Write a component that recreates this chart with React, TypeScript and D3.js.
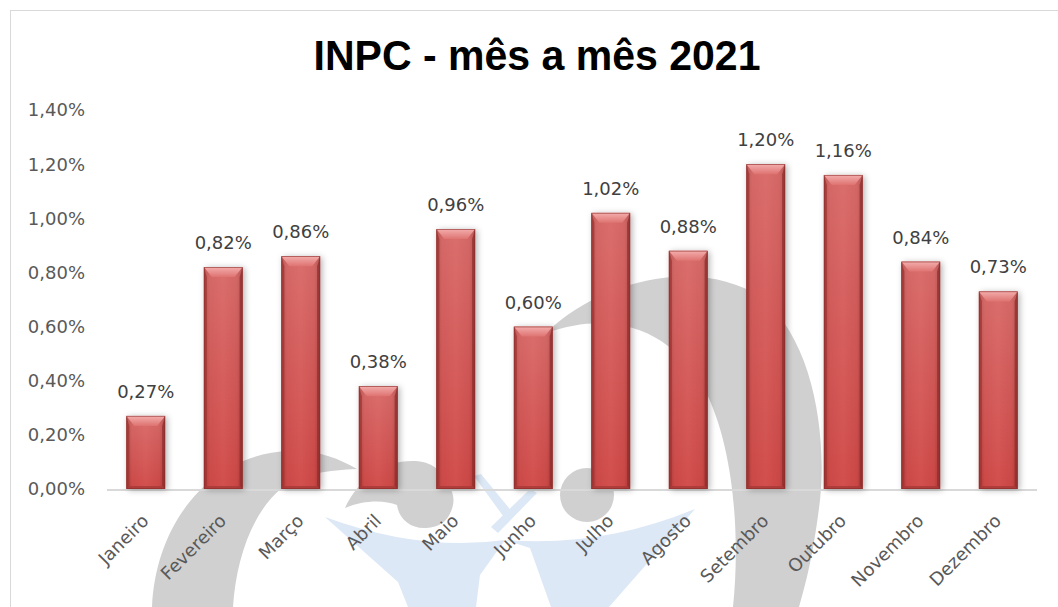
import * as d3 from 'd3';

const months = ['Janeiro', 'Fevereiro', 'Março', 'Abril', 'Maio', 'Junho', 'Julho', 'Agosto', 'Setembro', 'Outubro', 'Novembro', 'Dezembro'];
const inpc = [0.27, 0.82, 0.86, 0.38, 0.96, 0.6, 1.02, 0.88, 1.2, 1.16, 0.84, 0.73];
const yTicks = [0, 0.2, 0.4, 0.6, 0.8, 1.0, 1.2, 1.4];
const title = 'INPC - mês a mês 2021';

const W = 1058;
const H = 607;
const plot = { left: 107, right: 1037, top: 110, bottom: 489 };

const fmt = (v: number) => v.toFixed(2).replace('.', ',') + '%';
const labelFont = '"DejaVu Sans", sans-serif';

function Watermark() {
  const grey = '#d0d0d0';
  const blue = '#dce8f6';
  return (
    <g>
      {/* blue figures */}
      <path d="M325,517 Q420,552 505,540 L480,575 L476,607 L408,607 L398,582 Z" fill={blue} />
      <path d="M505,540 Q600,548 695,509 L609,607 L551,607 L530,548 Z" fill={blue} />
      <path d="M474,476 L481,474 L513,513 L506,520 Z" fill={blue} />
      <path d="M530,489 L537,493 L498,533 L491,527 Z" fill={blue} />
      {/* grey arcs */}
      <path d="M152,607 C156,520 213,453 290,451 C318,450 338,458 357,469 C330,470 300,474 282,488 C252,512 236,560 233,607 Z" fill={grey} />
      <path d="M345,508 C358,480 383,461 412,461 C430,461 440,469 441,476 C451,485 455,496 453,505 C449,523 437,528 424,528 C410,528 399,519 397,505 C384,500 364,500 345,508 Z" fill={grey} />
      <path d="M546,333 C600,280 700,256 762,298 C812,340 827,430 820,500 C814,550 807,580 799,607 L733,607 C740,540 735,450 705,390 C675,335 620,307 546,333 Z" fill={grey} />
      <circle cx={587} cy={495} r={27} fill={grey} />
    </g>
  );
}

export default function App() {
  const x = d3.scaleBand<string>().domain(months).range([plot.left, plot.right]).paddingInner(0.5).paddingOuter(0.25);
  const y = d3.scaleLinear().domain([0, 1.4]).range([plot.bottom, plot.top]);
  const bw = x.bandwidth();

  return (
    <svg width={W} height={H} style={{ position: 'fixed', left: 0, top: 0, background: '#fff' }}>
      <defs>
        <linearGradient id="body" x1="0" x2="1" y1="0" y2="0">
          <stop offset="0" stopColor="#a93a38" />
          <stop offset="0.15" stopColor="#cb4846" />
          <stop offset="0.5" stopColor="#d2504e" />
          <stop offset="0.85" stopColor="#c94644" />
          <stop offset="1" stopColor="#a53735" />
        </linearGradient>
        <linearGradient id="sheen" x1="0" x2="0" y1="0" y2="1">
          <stop offset="0" stopColor="#fff" stopOpacity={0.18} />
          <stop offset="1" stopColor="#fff" stopOpacity={0} />
        </linearGradient>
        <linearGradient id="topBevel" x1="0" x2="0" y1="0" y2="1">
          <stop offset="0" stopColor="#f3aead" />
          <stop offset="1" stopColor="#de7371" />
        </linearGradient>
        <filter id="shadow" x="-30%" y="-10%" width="160%" height="120%">
          <feDropShadow dx="2" dy="1" stdDeviation="3" floodColor="#000" floodOpacity="0.3" />
        </filter>
      </defs>

      <rect x={10.5} y={10.5} width={W + 20} height={H + 20} fill="#fff" stroke="#d9d9d9" />

      <Watermark />

      <text x={537} y={70} textAnchor="middle" fontFamily='"Liberation Sans", Arial, sans-serif' fontWeight="bold" fontSize={43} textLength={447} lengthAdjust="spacingAndGlyphs" fill="#000">
        {title}
      </text>

      {yTicks.map((t) => (
        <text key={t} x={85} y={y(t)} dy="0.36em" textAnchor="end" fontFamily={labelFont} fontSize={18} fill="#595959">
          {fmt(t)}
        </text>
      ))}

      <line x1={plot.left} x2={plot.right} y1={plot.bottom + 1} y2={plot.bottom + 1} stroke="#d9d9d9" strokeWidth={2} />

      {inpc.map((v, i) => {
        const bx = x(months[i])!;
        const by = y(v);
        const h = plot.bottom - by;
        const s = 3;
        const t = 10;
        return (
          <g key={months[i]}>
            <g filter="url(#shadow)">
              <rect x={bx} y={by} width={bw} height={h} fill="url(#body)" />
            </g>
            <rect x={bx} y={by} width={bw} height={h} fill="url(#sheen)" />
            <polygon points={`${bx},${by} ${bx + s},${by + t} ${bx + s},${by + h - s} ${bx},${by + h}`} fill="#9c3432" opacity={0.75} />
            <polygon points={`${bx + bw},${by} ${bx + bw - s},${by + t} ${bx + bw - s},${by + h - s} ${bx + bw},${by + h}`} fill="#8e2e2c" opacity={0.75} />
            <polygon points={`${bx},${by + h} ${bx + s},${by + h - s} ${bx + bw - s},${by + h - s} ${bx + bw},${by + h}`} fill="#a33836" opacity={0.75} />
            <polygon points={`${bx},${by} ${bx + bw},${by} ${bx + bw - 8},${by + t} ${bx + 8},${by + t}`} fill="url(#topBevel)" />
            <rect x={bx + 0.4} y={by + 0.4} width={bw - 0.8} height={h - 0.8} fill="none" stroke="#8a2b2a" strokeWidth={0.8} strokeOpacity={0.7} />
            <text x={bx + bw / 2} y={by - 18} textAnchor="middle" fontFamily={labelFont} fontSize={18} fill="#404040">
              {fmt(v)}
            </text>
          </g>
        );
      })}

      {months.map((m) => {
        const cx = x(m)! + bw / 2;
        return (
          <text key={m} transform={`translate(${cx + 4},${plot.bottom + 33}) rotate(-45)`} textAnchor="end" fontFamily={labelFont} fontSize={18} fill="#595959">
            {m}
          </text>
        );
      })}
    </svg>
  );
}
